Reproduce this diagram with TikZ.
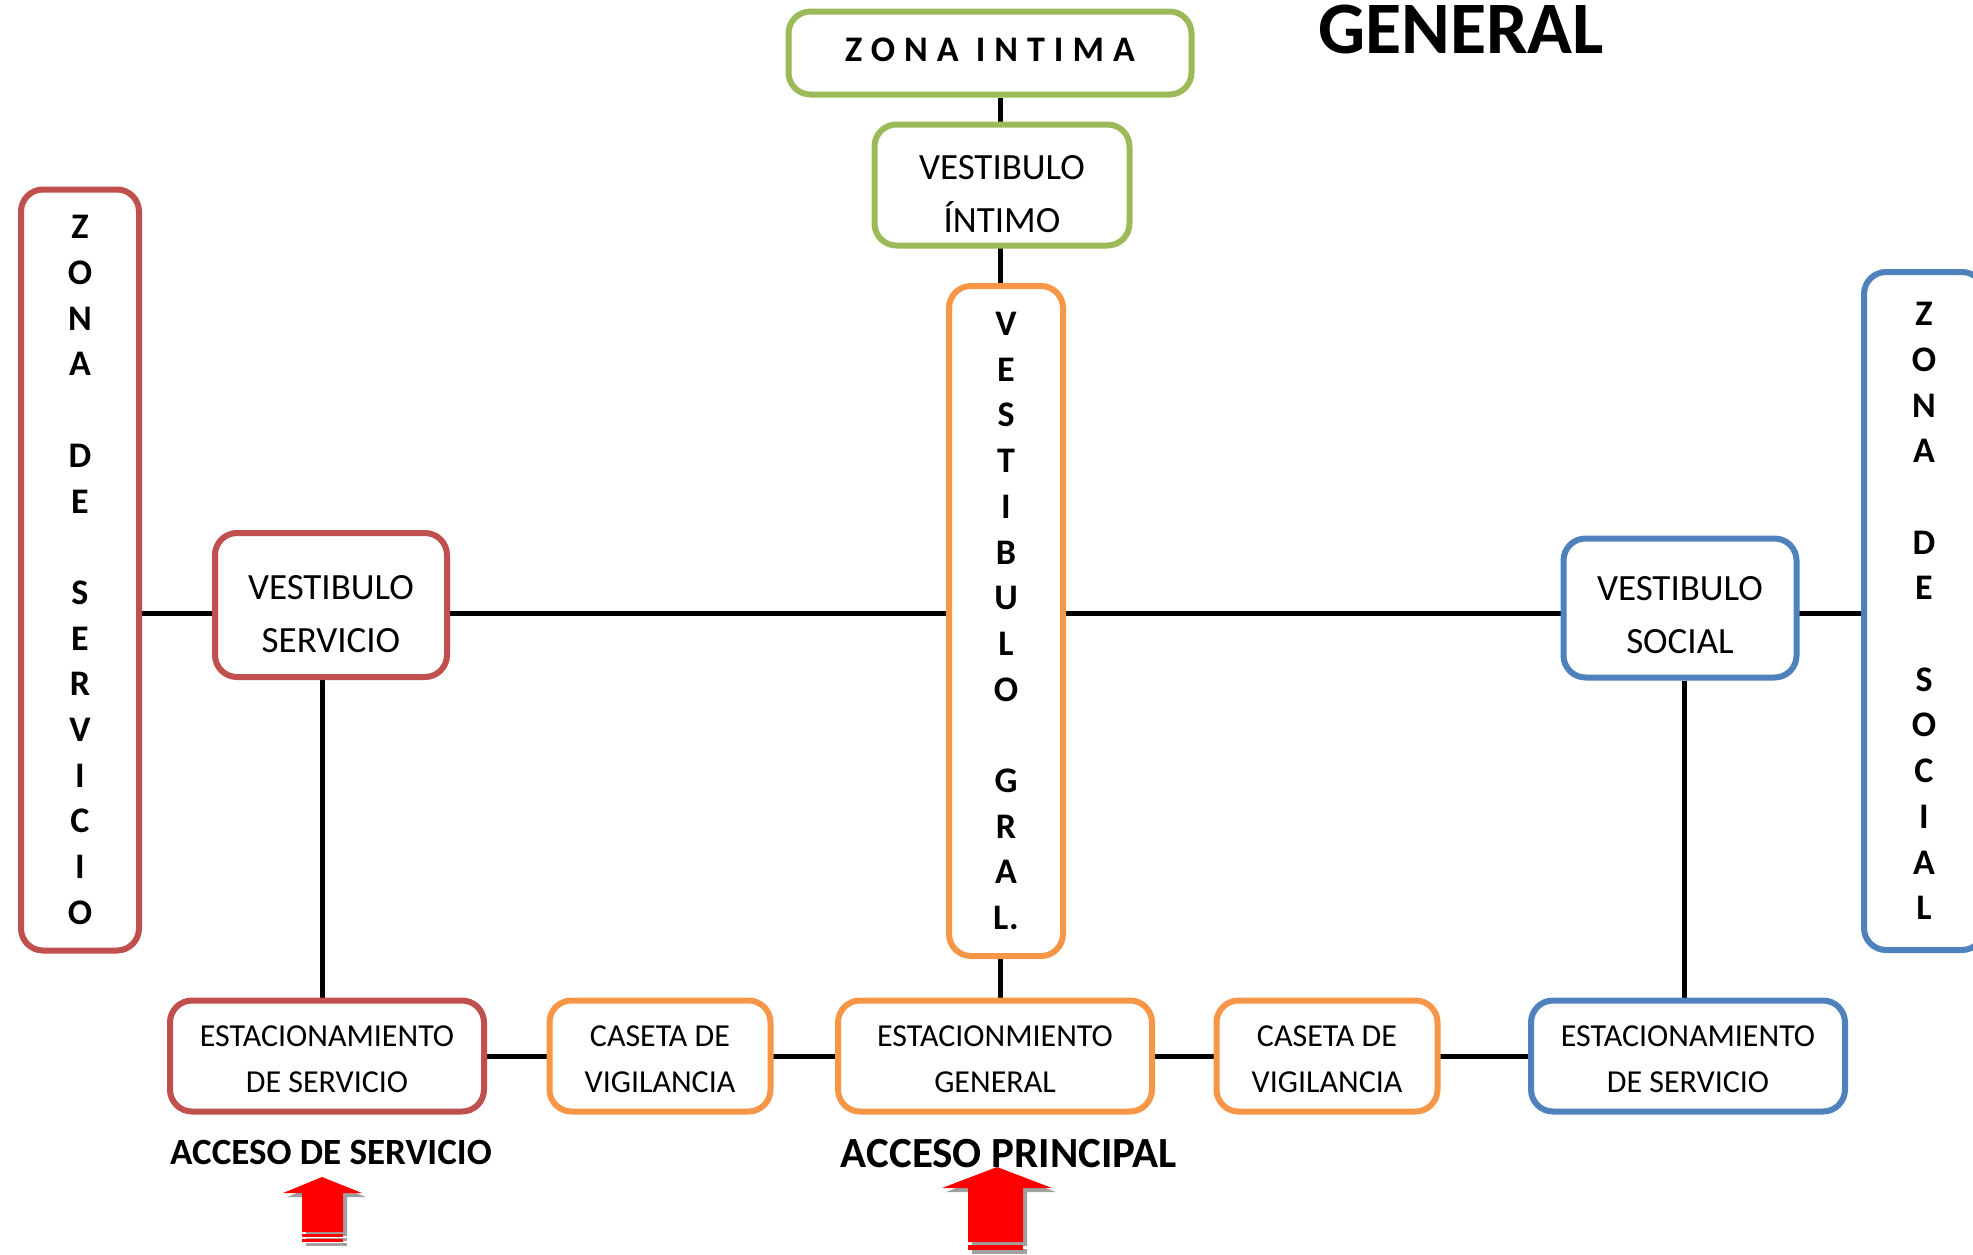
\documentclass[tikz,border=0pt]{standalone}
\usepackage{fontspec}
\setmainfont{Carlito}
\newfontfamily\spacedfont[LetterSpace=25]{Carlito}
\usetikzlibrary{backgrounds}
\definecolor{cred}{HTML}{C0504D}
\definecolor{cgreen}{HTML}{9BBB59}
\definecolor{corange}{HTML}{F79646}
\definecolor{cblue}{HTML}{4F81BD}
\definecolor{shadowgray}{HTML}{A0A0A0}
\begin{document}
\begin{tikzpicture}[x=1pt,y=-1pt,
  box/.style={draw, line width=6, rounded corners=22, fill=white, align=center, inner sep=0,
    font=\fontsize{37}{53}\selectfont, text height=94pt, text depth=0pt},
  smallbox/.style={box, minimum height=111, font=\fontsize{32}{46}\selectfont, text height=72pt, text depth=0pt},
  vbox/.style={draw, line width=6, rounded corners=22, fill=white, align=center, inner sep=0,
    font=\bfseries\fontsize{36}{45.7}\selectfont},
  conn/.style={line width=5, black},
  title/.style={font=\bfseries\fontsize{37}{44}\selectfont, anchor=base, inner sep=0}]
\useasboundingbox (0,0) rectangle (1973,1254);
% boxes
\node[box, draw=cgreen, minimum width=403, minimum height=83,
  font=\spacedfont\bfseries\fontsize{36}{40}\selectfont, text height=17pt, text depth=0pt] (zi) at (990,53) {ZONA INTIMA};
\node[box, draw=cgreen, minimum width=255, minimum height=121] (vi) at (1002,185) {VESTIBULO\\ÍNTIMO};
\node[vbox, draw=corange, minimum width=114, minimum height=670] (vg) at (1006,621)
  {V\\E\\S\\T\\I\\B\\U\\L\\O\\\mbox{}\\G\\R\\A\\L.};
\node[vbox, draw=cred, minimum width=118, minimum height=761] (zs) at (80,570)
  {Z\\O\\N\\A\\\mbox{}\\D\\E\\\mbox{}\\S\\E\\R\\V\\I\\C\\I\\O};
\node[vbox, draw=cblue, minimum width=120, minimum height=678] (zso) at (1924,611)
  {Z\\O\\N\\A\\\mbox{}\\D\\E\\\mbox{}\\S\\O\\C\\I\\A\\L};
\node[box, draw=cred, minimum width=232, minimum height=144] (vs) at (331,605) {VESTIBULO\\SERVICIO};
\node[box, draw=cblue, minimum width=233, minimum height=139, text height=90pt] (vso) at (1680,608) {VESTIBULO\\SOCIAL};
\node[smallbox, draw=cred, minimum width=314] (es1) at (327,1056) {ESTACIONAMIENTO\\DE SERVICIO};
\node[smallbox, draw=corange, minimum width=221] (cv1) at (660,1056) {CASETA DE\\VIGILANCIA};
\node[smallbox, draw=corange, minimum width=314] (eg) at (995,1056) {ESTACIONMIENTO\\GENERAL};
\node[smallbox, draw=corange, minimum width=221] (cv2) at (1327,1056) {CASETA DE\\VIGILANCIA};
\node[smallbox, draw=cblue, minimum width=314] (es2) at (1688,1056) {ESTACIONAMIENTO\\DE SERVICIO};
% texts
\node[font=\bfseries\fontsize{74}{80}\selectfont, anchor=base, inner sep=0] (gen) at (1461,53) {GENERAL};
\node[title] (acc1) at (331,1164) {ACCESO DE SERVICIO};
\node[title, font=\bfseries\fontsize{43}{50}\selectfont] (acc2) at (1009,1167) {ACCESO PRINCIPAL};
% connectors
\coordinate (hl) at (0,613);
\coordinate (vl1) at (322,0);
\coordinate (vl2) at (1000,0);
\coordinate (vl3) at (1684,0);
\begin{pgfonlayer}{background}
\draw[conn] (zs.east |- hl) -- (zso.west |- hl);
\draw[conn] (vl2 |- zi.south) -- (vl2 |- eg.north);
\draw[conn] (vl1 |- vs.south) -- (vl1 |- es1.north);
\draw[conn] (vl3 |- vso.south) -- (vl3 |- es2.north);
\draw[conn] (es1.east) -- (es2.west);
\end{pgfonlayer}
% arrows
\begin{scope}[shift={(4,4)}]
\fill[shadowgray] (322,1177) -- (362,1193) -- (343,1193) -- (343,1232) -- (302,1232) -- (302,1193) -- (283,1193) -- cycle;
\fill[shadowgray] (302,1234) rectangle (343,1237);
\fill[shadowgray] (302,1239) rectangle (343,1242);
\fill[shadowgray] (997,1167) -- (1052,1188) -- (1023,1188) -- (1023,1242) -- (968,1242) -- (968,1188) -- (942,1188) -- cycle;
\fill[shadowgray] (968,1245) rectangle (1023,1250);
\end{scope}
\fill[red] (322,1177) -- (362,1193) -- (343,1193) -- (343,1232) -- (302,1232) -- (302,1193) -- (283,1193) -- cycle;
\fill[red] (302,1234) rectangle (343,1237);
\fill[red] (302,1239) rectangle (343,1242);
\fill[red] (997,1167) -- (1052,1188) -- (1023,1188) -- (1023,1242) -- (968,1242) -- (968,1188) -- (942,1188) -- cycle;
\fill[red] (968,1245) rectangle (1023,1250);
\end{tikzpicture}
\end{document}
